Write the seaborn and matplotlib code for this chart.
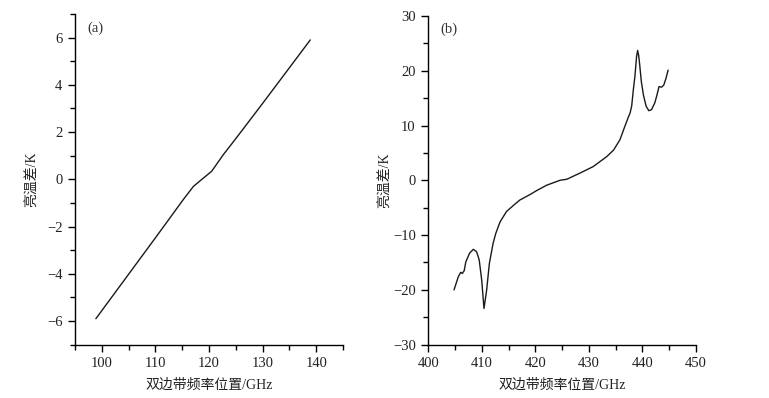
import seaborn as sns
import matplotlib
matplotlib.use("Agg")
import matplotlib.pyplot as plt
from matplotlib.ticker import MultipleLocator
import pandas as pd

# Panel (a): brightness temperature difference vs DSB frequency position (100-140 GHz)
freq_a = [98.9, 105.0, 110.0, 112.7, 115.2, 117.1, 119.0, 120.5, 122.7, 124.9, 130.0, 135.0, 138.9]
dtb_a = [-5.9, -4.02, -2.48, -1.64, -0.86, -0.30, 0.06, 0.34, 1.05, 1.69, 3.21, 4.72, 5.9]

# Panel (b): same quantity around 400-450 GHz
freq_b = [404.8, 405.6, 406.05, 406.35, 406.7, 407.0, 407.7, 408.4, 409.0, 409.5,
          409.97, 410.4, 410.9, 411.4, 412.1, 412.6, 413.4, 414.6, 416.0, 417.1,
          419.0, 420.2, 422.1, 424.6, 425.9, 428.3, 430.8, 433.3, 434.6, 435.8,
          436.7, 437.4, 437.7, 438.0, 438.3, 438.6, 438.9, 439.1, 439.3, 439.5,
          439.8, 440.2, 440.7, 441.2, 441.7, 442.3, 442.7, 443.1, 443.6, 444.0,
          444.4, 444.8]
dtb_b = [-20.0, -17.6, -16.8, -17.0, -16.5, -14.9, -13.3, -12.6, -13.0, -14.5,
         -18.2, -23.4, -20.0, -15.2, -11.5, -9.7, -7.6, -5.7, -4.5, -3.6,
         -2.6, -1.9, -0.9, 0.0, 0.2, 1.3, 2.5, 4.3, 5.5, 7.4,
         9.8, 11.6, 12.3, 13.6, 16.5, 19.0, 22.5, 23.7, 22.8, 21.0,
         18.0, 15.5, 13.5, 12.7, 12.9, 14.1, 15.5, 17.1, 17.0, 17.4,
         18.6, 20.1]

xlabel = "双边带频率位置/GHz"
ylabel = "亮温差/K"

sns.set_theme(style="ticks")
plt.rcParams["font.family"] = ["Liberation Serif", "Noto Sans CJK SC", "DejaVu Sans"]
plt.rcParams["axes.unicode_minus"] = True


def _style_axis(ax, xlim, ylim, xmaj, ymaj, tag, labelpad_y):
    ax.set_xlim(*xlim)
    ax.set_ylim(*ylim)
    ax.xaxis.set_major_locator(MultipleLocator(xmaj))
    ax.xaxis.set_minor_locator(MultipleLocator(xmaj / 2))
    ax.yaxis.set_major_locator(MultipleLocator(ymaj))
    ax.yaxis.set_minor_locator(MultipleLocator(ymaj / 2))
    ax.tick_params(which="major", direction="out", length=5, width=1, pad=4,
                   labelsize=10.5, color="black", labelcolor="#222222")
    ax.tick_params(which="minor", direction="out", length=3.5, width=1, color="black")
    for side in ["left", "bottom"]:
        ax.spines[side].set_color("black")
        ax.spines[side].set_linewidth(1)
    sns.despine(ax=ax)
    ax.set_xlabel(xlabel, fontsize=10, labelpad=6, color="#222222")
    ax.set_ylabel(ylabel, fontsize=10, labelpad=labelpad_y, color="#222222")
    ax.text(0.045, 0.958, tag, transform=ax.transAxes, fontsize=10.5,
            va="center", ha="left", color="#333333")


fig = plt.figure(figsize=(7.69, 3.98), dpi=100)
ax1 = fig.add_axes([0.0975, 0.134, 0.3485, 0.831])
ax2 = fig.add_axes([0.557, 0.134, 0.348, 0.826])

df_a = pd.DataFrame({"freq": freq_a, "dtb": dtb_a})
df_b = pd.DataFrame({"freq": freq_b, "dtb": dtb_b})

sns.lineplot(data=df_a, x="freq", y="dtb", color="#1a1a1a", linewidth=1.0, sort=False, ax=ax1)
sns.lineplot(data=df_b, x="freq", y="dtb", color="#1a1a1a", linewidth=1.0, sort=False, ax=ax2)

_style_axis(ax1, (95, 145), (-7, 7), 10, 2, "(a)", 6)
_style_axis(ax2, (400, 450), (-30, 30), 10, 10, "(b)", 1)

fig.savefig("out.png", dpi=100)
